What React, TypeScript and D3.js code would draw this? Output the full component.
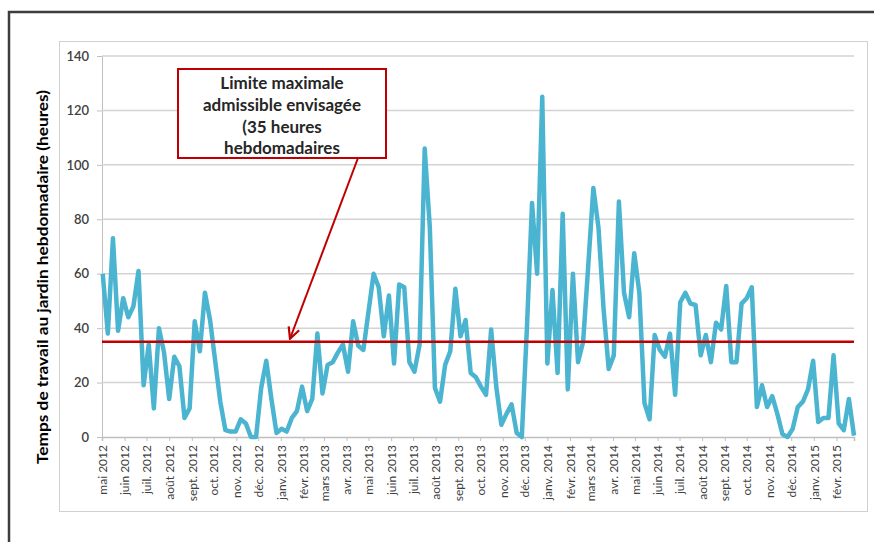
import React, { useEffect, useRef } from 'react';
import * as d3 from 'd3';

// weekly garden work hours, first week starting 2 May 2012
const startDate = new Date(2012, 4, 2);
const hours = [
  60, 38, 73, 39, 51, 44, 48, 61, 19, 34,
  10.5, 40, 31, 14, 29.5, 26, 7, 10.5, 42.5, 31.5,
  53, 43, 28, 13, 2.5, 2, 2, 6.5, 5, 0,
  0, 18, 28, 14, 1.5, 3, 2, 7, 9.5, 18.5,
  9.5, 14, 38, 16, 26.5, 27.5, 31, 34, 24, 42.5,
  33.5, 32, 46, 60, 55, 37, 52, 27, 56, 55,
  27.5, 24, 34, 106, 77, 18, 13, 26.5, 31.5, 54.5,
  37, 43, 23.5, 22, 18.5, 15.5, 39.5, 18.5, 4.5, 8.5,
  12, 1.5, 0, 40, 86, 60, 125, 27, 54, 23.5,
  82, 17.5, 60, 27.5, 35, 63, 91.5, 77, 47, 25,
  30, 86.5, 53, 44, 67.5, 53, 12.5, 6.5, 37.5, 32,
  29.5, 38, 15.5, 49.5, 53, 49, 48.5, 30, 37.5, 27.5,
  42, 39.5, 55.5, 27.5, 27.5, 49, 51, 55, 11, 19,
  11, 15, 8.5, 1, 0, 3, 11, 13, 17.5, 28,
  5.5, 7, 7, 30, 5, 2.5, 14, 0.5,
];

const monthLabels = [
  'mai 2012', 'juin 2012', 'juil. 2012', 'août 2012', 'sept. 2012', 'oct. 2012',
  'nov. 2012', 'déc. 2012', 'janv. 2013', 'févr. 2013', 'mars 2013', 'avr. 2013',
  'mai 2013', 'juin 2013', 'juil. 2013', 'août 2013', 'sept. 2013', 'oct. 2013',
  'nov. 2013', 'déc. 2013', 'janv. 2014', 'févr. 2014', 'mars 2014', 'avr. 2014',
  'mai 2014', 'juin 2014', 'juil. 2014', 'août 2014', 'sept. 2014', 'oct. 2014',
  'nov. 2014', 'déc. 2014', 'janv. 2015', 'févr. 2015',
];

const yTicks = [0, 20, 40, 60, 80, 100, 120, 140];
const limit = 35;
const noteLines = ['Limite maximale', 'admissible envisagée', '(35 heures', 'hebdomadaires'];
const yTitle = 'Temps de travail au jardin hebdomadaire (heures)';

export default function App() {
  const svgRef = useRef<SVGSVGElement | null>(null);

  useEffect(() => {
    if (!svgRef.current) return;
    const svg = d3.select(svgRef.current);
    svg.selectAll('*').remove();

    const font = 'Lato, "Open Sans", sans-serif';
    const data = hours.map((v, i) => ({ date: d3.timeDay.offset(startDate, i * 7), v }));
    const firstMonth = new Date(2012, 4, 1);
    const monthDates = monthLabels.map((_, i) => d3.timeMonth.offset(firstMonth, i));

    const x = d3.scaleTime()
      .domain([firstMonth, data[data.length - 1].date])
      .range([102, 854]);
    const y = d3.scaleLinear().domain([0, 140]).range([437, 56]);

    // outer frame (dark, open on the right and bottom)
    svg.append('path')
      .attr('d', 'M9,542 L9,12 L874,12')
      .attr('fill', 'none')
      .attr('stroke', '#3d3d3d')
      .attr('stroke-width', 2.5);

    // chart area border
    svg.append('rect')
      .attr('x', 59.5).attr('y', 41.5)
      .attr('width', 808).attr('height', 470)
      .attr('fill', '#fff')
      .attr('stroke', '#d0d0d0');

    // gridlines + y axis
    const yAxis = svg.append('g')
      .attr('transform', 'translate(102,0)')
      .call(d3.axisLeft(y).tickValues(yTicks).tickSize(5).tickPadding(8));
    yAxis.select('.domain').attr('stroke', '#bfbfbf');
    yAxis.selectAll('line').attr('stroke', '#bfbfbf');
    yAxis.selectAll('text')
      .attr('font-family', font).attr('font-size', 13)
      .attr('font-weight', 600)
      .attr('fill', '#404040');

    svg.append('g')
      .selectAll('line')
      .data(yTicks.filter(t => t > 0))
      .join('line')
      .attr('x1', 102).attr('x2', 854)
      .attr('y1', d => y(d)).attr('y2', d => y(d))
      .attr('stroke', '#d3d3d3')
      .attr('stroke-width', 1.5);

    // x axis
    const xAxis = svg.append('g')
      .attr('transform', 'translate(0,437)')
      .call(d3.axisBottom(x).tickValues(monthDates).tickSize(4)
        .tickFormat((_, i) => monthLabels[i]));
    xAxis.select('.domain').attr('stroke', '#bfbfbf').attr('stroke-width', 1.5);
    xAxis.selectAll('line').attr('stroke', '#bfbfbf');
    xAxis.selectAll('text')
      .attr('font-family', font).attr('font-size', 12)
      .attr('fill', '#404040')
      .attr('transform', 'rotate(-90)')
      .attr('text-anchor', 'end')
      .attr('x', -8).attr('y', 0).attr('dy', '0.35em');

    // series
    const line = d3.line<{ date: Date; v: number }>()
      .x(d => x(d.date))
      .y(d => y(d.v));
    svg.append('path')
      .datum(data)
      .attr('fill', 'none')
      .attr('stroke', '#4bb4d0')
      .attr('stroke-width', 4.5)
      .attr('stroke-linejoin', 'round')
      .attr('d', line);

    // 35 h limit
    svg.append('line')
      .attr('x1', 102).attr('x2', 854)
      .attr('y1', y(limit)).attr('y2', y(limit))
      .attr('stroke', '#c00000')
      .attr('stroke-width', 2.5);

    // callout box and arrow
    svg.append('defs').append('marker')
      .attr('id', 'arrow')
      .attr('viewBox', '0 0 10 10')
      .attr('refX', 9).attr('refY', 5)
      .attr('markerWidth', 7).attr('markerHeight', 7)
      .attr('orient', 'auto')
      .append('path')
      .attr('d', 'M1,1 L9,5 L1,9')
      .attr('fill', 'none')
      .attr('stroke', '#c00000')
      .attr('stroke-width', 1.6);

    svg.append('line')
      .attr('x1', 358).attr('y1', 158)
      .attr('x2', 290).attr('y2', y(limit) - 3)
      .attr('stroke', '#c00000')
      .attr('stroke-width', 2)
      .attr('marker-end', 'url(#arrow)');

    svg.append('rect')
      .attr('x', 178).attr('y', 69)
      .attr('width', 208).attr('height', 89)
      .attr('fill', '#fff')
      .attr('stroke', '#c00000')
      .attr('stroke-width', 2);

    svg.append('g')
      .selectAll('text')
      .data(noteLines)
      .join('text')
      .attr('x', 282)
      .attr('y', (_, i) => 83 + i * 21.8)
      .attr('dy', '0.35em')
      .attr('text-anchor', 'middle')
      .attr('font-family', font)
      .attr('font-weight', 700)
      .attr('font-size', 17)
      .attr('fill', '#262626')
      .text(d => d);

    // y title
    svg.append('text')
      .attr('transform', 'translate(42,277) rotate(-90)')
      .attr('text-anchor', 'middle')
      .attr('dy', '0.35em')
      .attr('font-family', font)
      .attr('font-weight', 700)
      .attr('font-size', 16)
      .attr('textLength', 374)
      .attr('lengthAdjust', 'spacingAndGlyphs')
      .attr('fill', '#000')
      .text(yTitle);
  }, []);

  return (
    <svg
      ref={svgRef}
      width={874}
      height={542}
      style={{ position: 'absolute', left: 0, top: 0, background: '#fff' }}
    />
  );
}
